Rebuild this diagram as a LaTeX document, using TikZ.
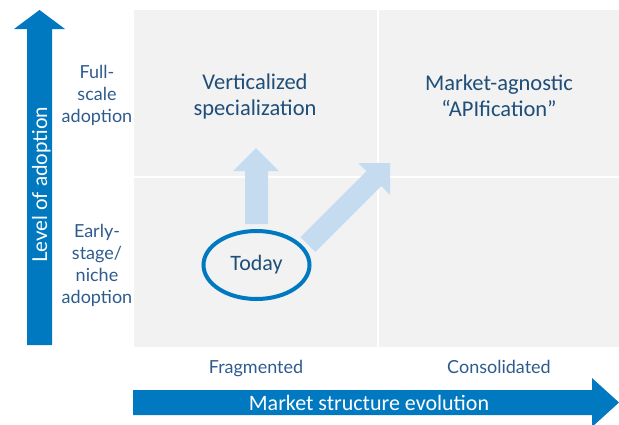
\documentclass[tikz,border=0pt]{standalone}
\usepackage{fontspec}
\setmainfont{Carlito}
\newfontfamily\axisfont{Lato}
\usetikzlibrary{shapes.geometric}
\definecolor{darkarrow}{HTML}{0079C1}
\definecolor{lightarrow}{HTML}{C5DCF0}
\definecolor{quadgray}{HTML}{F2F2F2}
\definecolor{quadtext}{HTML}{1F4E79}
\definecolor{axistext}{HTML}{2E5B8E}
\tikzset{
  quadlabel/.style={font=\fontsize{22.5}{26}\selectfont, text=quadtext, align=center, inner sep=0pt},
  axislabel/.style={font=\axisfont\fontsize{18}{22}\selectfont, text=axistext, align=center, inner sep=0pt},
  arrowtext/.style={font=\fontsize{22}{24}\selectfont, text=white, inner sep=0pt},
  todayoval/.style={ellipse, draw=darkarrow, line width=4pt, minimum width=106pt, minimum height=68pt, inner sep=0pt, font=\fontsize{22}{26}\selectfont, text=quadtext}
}
\begin{document}
\begin{tikzpicture}[x=1pt,y=-1pt]
\useasboundingbox (0,0) rectangle (619,424);
% quadrants
\fill[quadgray] (134,10) rectangle (377,176);
\fill[quadgray] (379,10) rectangle (619,176);
\fill[quadgray] (134,178) rectangle (377,347);
\fill[quadgray] (379,178) rectangle (619,347);
% vertical axis arrow
\fill[darkarrow] (27,345) -- (27,29) -- (14,29) -- (39.5,10) -- (65,29) -- (52,29) -- (52,345) -- cycle;
\node[arrowtext, rotate=90, anchor=base] (yaxis) at (47,184.5) {\axisfont\fontsize{20.5}{22}\selectfont Level of adoption};
% horizontal axis arrow
\fill[darkarrow] (133,390) -- (592,390) -- (592,378) -- (619,402.5) -- (592,427) -- (592,415) -- (133,415) -- cycle;
\node[arrowtext, anchor=base] (xaxis) at (369,410) {Market structure evolution};
% axis labels
\node[axislabel] (full) at (97,95) {Full-\\scale\\adoption};
\node[axislabel] (early) at (97,265) {Early-\\stage/\\niche\\adoption};
\node[axislabel, anchor=base] (frag) at (256,373) {Fragmented};
\node[axislabel, anchor=base] (cons) at (499,373) {Consolidated};
% quadrant labels
\node[quadlabel] (vert) at (255,96) {Verticalized\\specialization};
\node[quadlabel] (api) at (499,96) {Market-agnostic\\“APIfication”};
% light arrows
\fill[lightarrow] (245,224) -- (245,171) -- (233,171) -- (256,148) -- (279,171) -- (268,171) -- (268,224) -- cycle;
\fill[lightarrow] (300.6,237.1) -- (366.6,171.1) -- (358,163) -- (390,163) -- (390,195) -- (381.4,185.9) -- (315.4,251.9) -- cycle;
% today
\node[todayoval] (today) at (256.5,265) {Today};
\end{tikzpicture}
\end{document}
